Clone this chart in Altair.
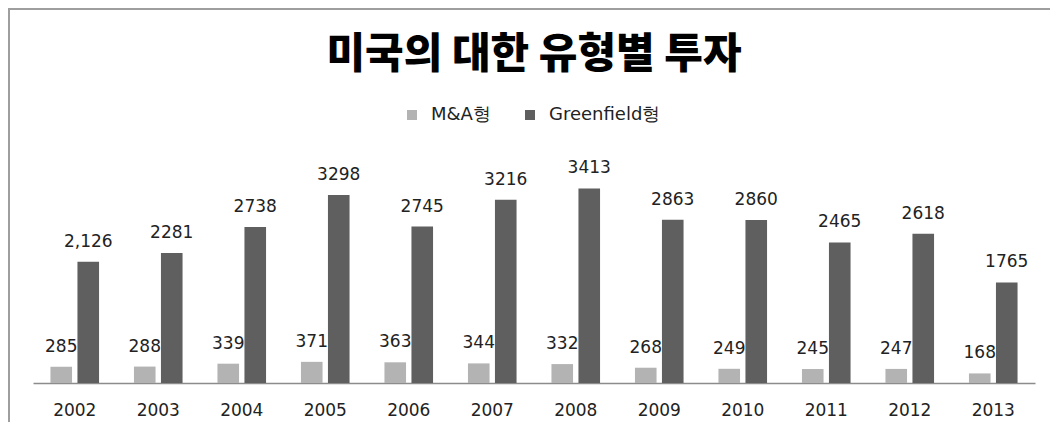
import altair as alt
import pandas as pd

title_text = "미국의 대한 유형별 투자"
years = ["2002", "2003", "2004", "2005", "2006", "2007",
         "2008", "2009", "2010", "2011", "2012", "2013"]
ma_values = [285, 288, 339, 371, 363, 344, 332, 268, 249, 245, 247, 168]
gf_values = [2126, 2281, 2738, 3298, 2745, 3216, 3413, 2863, 2860, 2465, 2618, 1765]
ma_labels = ["285", "288", "339", "371", "363", "344", "332", "268", "249", "245", "247", "168"]
gf_labels = ["2,126", "2281", "2738", "3298", "2745", "3216", "3413", "2863", "2860", "2465", "2618", "1765"]
series = ["M&A형", "Greenfield형"]
colors = ["#b3b3b3", "#5f5f5f"]

rows = []
for i, yr in enumerate(years):
    rows.append({"year": yr, "type": series[0], "value": ma_values[i], "label": ma_labels[i]})
    rows.append({"year": yr, "type": series[1], "value": gf_values[i], "label": gf_labels[i]})
df = pd.DataFrame(rows)

base = alt.Chart(df)

x = alt.X("year:N", sort=years,
          scale=alt.Scale(paddingInner=0.418, paddingOuter=0.209),
          axis=alt.Axis(title=None, labelAngle=0, ticks=False, tickSize=0,
                        domainColor="#8c8c8c", domainWidth=1.5,
                        labelFont="DejaVu Sans", labelFontSize=17,
                        labelColor="#222222", labelPadding=19))
xo = alt.XOffset("type:N", sort=series,
                 scale=alt.Scale(paddingInner=0.2, paddingOuter=0))
y = alt.Y("value:Q", scale=alt.Scale(domain=[0, 4000]), axis=None)

bars = base.mark_bar().encode(
    x=x, xOffset=xo, y=y,
    color=alt.Color("type:N", sort=series,
                    scale=alt.Scale(domain=series, range=colors),
                    legend=alt.Legend(orient="none", legendX=370, legendY=-49,
                                      direction="horizontal", title=None,
                                      symbolType="square", symbolSize=100,
                                      symbolStrokeWidth=0,
                                      labelFont="DejaVu Sans", labelFontSize=18,
                                      labelColor="#222222", columnPadding=30,
                                      labelOffset=10, padding=0))
)

labels = base.mark_text(baseline="alphabetic", dy=-15, fontSize=17,
                        font="DejaVu Sans", color="#222222").encode(
    x=x, xOffset=xo, y=y, text="label:N"
)

single = pd.DataFrame({"title": [title_text]})
title_mark = alt.Chart(single).mark_text(
    font="Noto Sans CJK KR", fontSize=42, fontWeight=900, color="#000000",
    align="center", baseline="middle").encode(
    x=alt.value(501), y=alt.value(-100), text="title:N"
)
frame_top = alt.Chart(single).mark_rule(color="#9e9e9e", strokeWidth=2).encode(
    x=alt.value(-25), x2=alt.value(1017), y=alt.value(-146)
)
frame_left = alt.Chart(single).mark_rule(color="#9e9e9e", strokeWidth=2).encode(
    x=alt.value(-24), y=alt.value(-147), y2=alt.value(267)
)

chart = alt.layer(bars, labels, title_mark, frame_top, frame_left).properties(
    width=1002, height=228,
    autosize=alt.AutoSizeParams(type="none"),
    padding={"left": 25, "top": 147, "right": 15, "bottom": 39},
).configure_view(strokeWidth=0)

chart.save("out.html", embed_options={"renderer": "svg", "actions": False})
